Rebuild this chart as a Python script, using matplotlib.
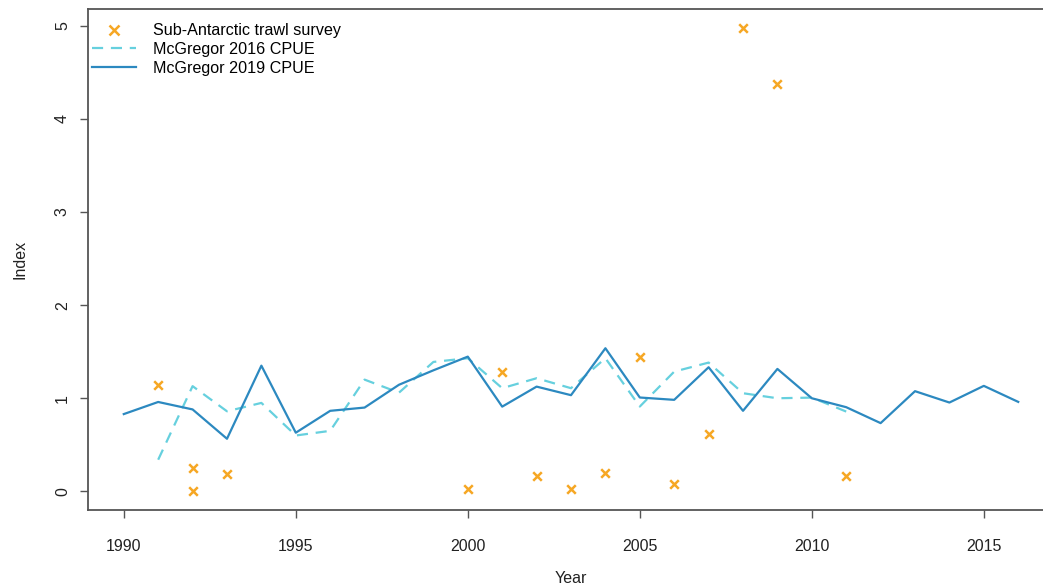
import matplotlib
matplotlib.use("Agg")
import matplotlib.pyplot as plt
from matplotlib.lines import Line2D

plt.rcParams['font.family'] = ['Liberation Sans', 'DejaVu Sans']

# ---- data ----
years_2019 = list(range(1990, 2017))
cpue_2019 = [0.83, 0.96, 0.88, 0.565, 1.35, 0.63, 0.865, 0.90, 1.145, 1.30,
             1.447, 0.91, 1.125, 1.033, 1.537, 1.008, 0.983, 1.333, 0.865, 1.315,
             1.00, 0.904, 0.733, 1.076, 0.954, 1.133, 0.961]

years_2016 = list(range(1991, 2012))
cpue_2016 = [0.34, 1.13, 0.86, 0.95, 0.60, 0.65, 1.20, 1.06, 1.39, 1.43,
             1.108, 1.215, 1.108, 1.43, 0.911, 1.286, 1.383, 1.054, 1.00, 1.007,
             0.857]

survey_years = [1991, 1992, 1992, 1993, 2000, 2001, 2002, 2003, 2004, 2005,
                2006, 2007, 2008, 2009, 2011]
survey_index = [1.14, 0.25, 0.0, 0.19, 0.025, 1.286, 0.17, 0.025, 0.20, 1.447,
                0.08, 0.62, 4.98, 4.37, 0.16]

x_ticks = [1990, 1995, 2000, 2005, 2010, 2015]
y_ticks = [0, 1, 2, 3, 4, 5]

c_survey = '#F6A724'
c_2016 = '#66D0DE'
c_2019 = '#2C89C0'
c_axis = '#555555'

W, H = 1043, 587
fig = plt.figure(figsize=(W / 100, H / 100), dpi=100)
L, R, T, B = 88, 1054, 9, 510
ax = fig.add_axes([L / W, (H - B) / H, (R - L) / W, (B - T) / H])

ax.plot(years_2016, cpue_2016, color=c_2016, lw=1.6, dashes=(5, 3.5),
        label='McGregor 2016 CPUE')
ax.plot(years_2019, cpue_2019, color=c_2019, lw=1.6,
        label='McGregor 2019 CPUE')
ax.scatter(survey_years, survey_index, marker='x', s=38, color=c_survey,
           linewidths=1.8, zorder=3, label='Sub-Antarctic trawl survey')

ax.set_xlim(1988.96, 2017.04)
ax.set_ylim(-0.2, 5.18)
ax.set_xticks(x_ticks)
ax.set_yticks(y_ticks)
ax.set_xticklabels([str(v) for v in x_ticks])
ax.set_yticklabels([str(v) for v in y_ticks], rotation=90, va='center')

for s in ax.spines.values():
    s.set_color(c_axis)
    s.set_linewidth(1.3)
ax.tick_params(axis='both', direction='out', length=6, width=1.0,
               color=c_axis, labelsize=11.5, labelcolor='#222222')
ax.tick_params(axis='x', pad=15)
ax.tick_params(axis='y', pad=7)

ax.set_xlabel('Year', fontsize=11.5, color='#222222', labelpad=12)
ax.set_ylabel('Index', fontsize=11.5, color='#222222', labelpad=20)

handles = [
    Line2D([], [], marker='x', ls='none', color=c_survey, markersize=7, mew=1.8),
    Line2D([], [], color=c_2016, lw=1.6, dashes=(5, 3.5)),
    Line2D([], [], color=c_2019, lw=1.6),
]
labels = ['Sub-Antarctic trawl survey', 'McGregor 2016 CPUE', 'McGregor 2019 CPUE']
leg = ax.legend(handles, labels, loc='upper left', frameon=False,
                fontsize=11.6, handlelength=2.75, handletextpad=1.0,
                labelspacing=0.24, borderaxespad=0.0, borderpad=0.2,
                bbox_to_anchor=(0.001, 0.978))

fig.savefig('out.png', dpi=100)
